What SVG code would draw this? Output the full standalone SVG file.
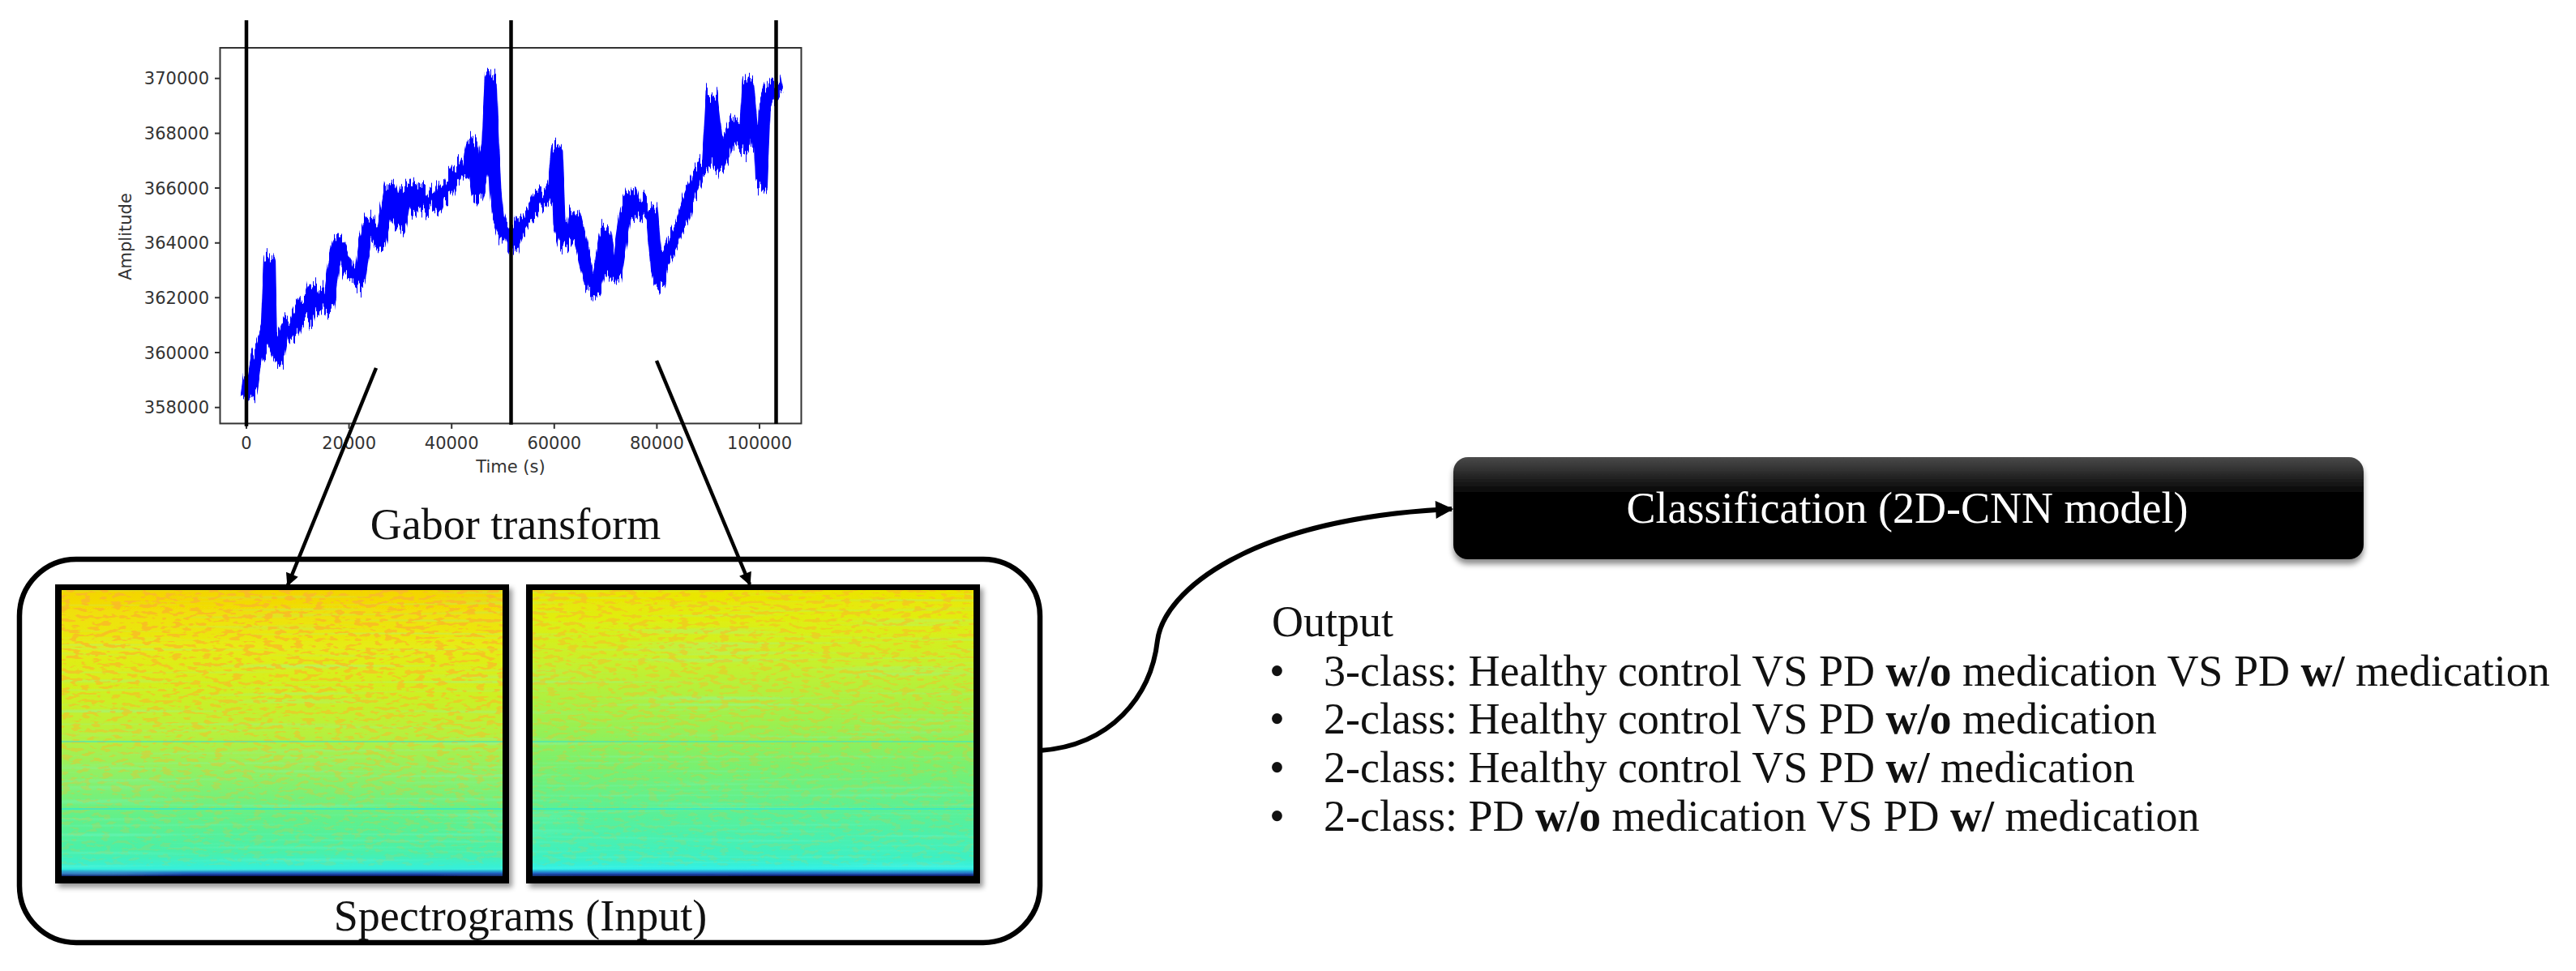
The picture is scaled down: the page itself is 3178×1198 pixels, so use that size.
<svg xmlns="http://www.w3.org/2000/svg" width="3178" height="1198" viewBox="0 0 3178 1198">
<style>
.tick{font-family:"DejaVu Sans",sans-serif;font-size:21px;fill:#333}
.lbl{font-family:"Liberation Serif","Times New Roman",serif;font-size:54px;fill:#111}
.ax{stroke:#333;stroke-width:2;fill:none}
.vl{stroke:#000;stroke-width:4.5}
.arr{stroke:#000;stroke-width:4.5;fill:none}
.b{font-weight:bold}
</style>
<defs>
<marker id="ah" viewBox="0 0 10 10" refX="9" refY="5" markerWidth="18" markerHeight="16" markerUnits="userSpaceOnUse" orient="auto"><path d="M0,0 L10,5 L0,10 z" fill="#000"/></marker>
<marker id="ah2" viewBox="0 0 10 10" refX="9" refY="5" markerWidth="24" markerHeight="22" markerUnits="userSpaceOnUse" orient="auto"><path d="M0,0 L10,5 L0,10 z" fill="#000"/></marker>
<linearGradient id="g1" x1="0" y1="0" x2="0" y2="1">
<stop offset="0" stop-color="#f4d400"/><stop offset="0.08" stop-color="#f0e008"/><stop offset="0.2" stop-color="#e6ec14"/><stop offset="0.35" stop-color="#d0f020"/><stop offset="0.5" stop-color="#b8f03c"/><stop offset="0.65" stop-color="#8cf068"/><stop offset="0.8" stop-color="#60f08c"/><stop offset="0.92" stop-color="#48f0ac"/><stop offset="0.975" stop-color="#34f0dc"/><stop offset="0.99" stop-color="#2060c0"/><stop offset="1" stop-color="#0a1060"/>
</linearGradient>
<linearGradient id="g2" x1="0" y1="0" x2="0" y2="1">
<stop offset="0" stop-color="#ece400"/><stop offset="0.1" stop-color="#e0ee10"/><stop offset="0.25" stop-color="#c8f02c"/><stop offset="0.45" stop-color="#a0f04c"/><stop offset="0.6" stop-color="#7cf06c"/><stop offset="0.8" stop-color="#56f09c"/><stop offset="0.94" stop-color="#3cf0c4"/><stop offset="0.975" stop-color="#30f0e8"/><stop offset="0.99" stop-color="#2060c0"/><stop offset="1" stop-color="#0a1060"/>
</linearGradient>
<linearGradient id="fadeg1" x1="0" y1="0" x2="0" y2="1"><stop offset="0" stop-color="#fff"/><stop offset="0.3" stop-color="#bbb"/><stop offset="0.75" stop-color="#444"/><stop offset="1" stop-color="#222"/></linearGradient>
<linearGradient id="fadeg2" x1="0" y1="0" x2="0" y2="1"><stop offset="0" stop-color="#aaa"/><stop offset="0.3" stop-color="#777"/><stop offset="0.7" stop-color="#333"/><stop offset="1" stop-color="#222"/></linearGradient>
<mask id="fade1" maskContentUnits="objectBoundingBox"><rect width="1" height="1" fill="url(#fadeg1)"/></mask>
<mask id="fade2" maskContentUnits="objectBoundingBox"><rect width="1" height="1" fill="url(#fadeg2)"/></mask>
<filter id="speck" x="0" y="0" width="1" height="1">
<feTurbulence type="fractalNoise" baseFrequency="0.08 0.22" numOctaves="2" seed="5" result="n"/>
<feColorMatrix in="n" type="matrix" values="0 0 0 0 0.95  0 0 0 0 0.5  0 0 0 0 0.02  12 0 0 0 -6.4" result="d"/>
<feComposite in="d" in2="SourceAlpha" operator="in"/>
</filter>
<filter id="rows" x="0" y="0" width="1" height="1">
<feTurbulence type="fractalNoise" baseFrequency="0.004 0.25" numOctaves="1" seed="2" result="n"/>
<feColorMatrix in="n" type="matrix" values="0 0 0 0 0.2  0 0 0 0 0.95  0 0 0 0 0.7  3 0 0 0 -1.6" result="d"/>
<feComposite in="d" in2="SourceAlpha" operator="in"/>
</filter>
<filter id="jit" filterUnits="userSpaceOnUse" x="280" y="40" width="720" height="490">
<feTurbulence type="fractalNoise" baseFrequency="0.45 0.006" numOctaves="2" seed="7" result="n"/>
<feColorMatrix in="n" type="matrix" values="0 0 0 0 0.5  0 1 0 0 0  0 0 0 0 0  0 0 0 0 1" result="m"/>
<feDisplacementMap in="SourceGraphic" in2="m" scale="40" xChannelSelector="R" yChannelSelector="G"/>
</filter>
<filter id="shd" x="-5%" y="-5%" width="110%" height="115%"><feDropShadow dx="4" dy="5" stdDeviation="3" flood-color="#000" flood-opacity="0.4"/></filter>
<filter id="shd2" x="-5%" y="-10%" width="110%" height="130%"><feDropShadow dx="0" dy="6" stdDeviation="3.5" flood-color="#000" flood-opacity="0.45"/></filter>
<linearGradient id="cg" x1="0" y1="0" x2="0" y2="1"><stop offset="0" stop-color="#4a4a4a"/><stop offset="0.35" stop-color="#050505"/><stop offset="1" stop-color="#000"/></linearGradient>
</defs>
<rect width="3178" height="1198" fill="#fff"/>

<g id="signal-plot">
<polyline fill="none" stroke="#0000ff" stroke-width="15" stroke-linejoin="round" filter="url(#jit)" points="304,490 307.2,469 310.3,482 313.5,459 316.7,442 323,428 329.3,408 332.5,322 334.4,418 338.8,425 343.9,442 348.3,415 354.6,401 361,411 367.3,388 373.6,374 380,391 386.3,357 392.6,374 399,361 405.3,374 411.6,327 418,300 424.3,317 430.6,334 437,340 443.3,347 449.6,300 456,276 462.3,286 468.6,300 475,266 481.2,232 487.6,266 494,279 500.2,239 506.6,232 513,256 519.2,239 525.6,256 532,245 538.2,252 544.5,232 551,239 557.2,222 563.5,215 570,205 576.2,212 582.5,178 585.7,215 588.9,239 595.2,212 601.5,181 605.3,98 607.8,164 611,232 614.2,266 620.5,286 626.8,283 633,303 639.5,283 645.8,273 652.2,266 658.5,256 664.8,242 671,249 677.5,239 683.8,225 687,185 690,273 696.5,300 702.8,290 709,266 715.5,293 721.8,323 728,347 734.4,357 740.8,327 747,290 753.4,334 759.8,340 766,300 772.4,256 778.8,239 785,262 791.4,252 797.7,266 804,259 810.4,334 813.6,347 816.7,327 823,313 829.4,300 835.7,283 842,273 848.4,249 854.7,232 861,215 867.4,205 873.7,198 878,120 883.2,164 886.4,205 892.7,191 899,171 905.4,154 911.7,171 918,181 923,104 927.5,164 930.7,171 937,164 939.5,225 943.3,131 949.7,114 956,104 959,120"/>
<rect class="ax" x="271.5" y="59" width="717" height="463.5"/>
<path class="ax" d="M265,96.7H271.5M265,164.4H271.5M265,232H271.5M265,299.7H271.5M265,367.3H271.5M265,435H271.5M265,502.7H271.5M304,522.5V529M430.6,522.5V529M557.2,522.5V529M683.8,522.5V529M810.4,522.5V529M937,522.5V529"/>
<g class="tick" text-anchor="end">
<text x="258" y="104.2">370000</text><text x="258" y="171.9">368000</text><text x="258" y="239.5">366000</text><text x="258" y="307.2">364000</text><text x="258" y="374.8">362000</text><text x="258" y="442.5">360000</text><text x="258" y="510.2">358000</text>
</g>
<g class="tick" text-anchor="middle">
<text x="304" y="554">0</text><text x="430.6" y="554">20000</text><text x="557.2" y="554">40000</text><text x="683.8" y="554">60000</text><text x="810.4" y="554">80000</text><text x="937" y="554">100000</text>
<text x="630" y="583">Time (s)</text>
<text transform="translate(162,292) rotate(-90)">Amplitude</text>
</g>
<line class="vl" x1="304" y1="25" x2="304" y2="526"/>
<line class="vl" x1="630.5" y1="25" x2="630.5" y2="524"/>
<line class="vl" x1="957.5" y1="25" x2="957.5" y2="523"/>
</g>

<g id="gabor-label"><text class="lbl" x="636" y="665" text-anchor="middle">Gabor transform</text></g>

<g id="spectrograms">
<rect x="24" y="690" width="1259" height="473" rx="70" ry="70" fill="none" stroke="#000" stroke-width="6.5"/>
<g id="spec1" filter="url(#shd)">
<rect x="68" y="721" width="560" height="369" fill="#000"/>
<rect x="76" y="728" width="544" height="353" fill="url(#g1)"/>
<rect x="76" y="728" width="544" height="353" fill="#fff" filter="url(#rows)" opacity="0.35"/>
<rect x="76" y="728" width="544" height="340" fill="#fff" filter="url(#speck)" mask="url(#fade1)"/>
<line x1="76" y1="915" x2="620" y2="915" stroke="#40e8c0" stroke-width="2" opacity="0.6"/>
<line x1="76" y1="998" x2="620" y2="998" stroke="#30e8d0" stroke-width="2" opacity="0.7"/>
</g>
<g id="spec2" filter="url(#shd)">
<rect x="649" y="721" width="560" height="369" fill="#000"/>
<rect x="657" y="728" width="544" height="353" fill="url(#g2)"/>
<rect x="657" y="728" width="544" height="353" fill="#fff" filter="url(#rows)" opacity="0.35"/>
<rect x="657" y="728" width="544" height="340" fill="#fff" filter="url(#speck)" mask="url(#fade2)"/>
<line x1="657" y1="915" x2="1201" y2="915" stroke="#40e8c0" stroke-width="2" opacity="0.6"/>
<line x1="657" y1="998" x2="1201" y2="998" stroke="#30e8d0" stroke-width="2" opacity="0.7"/>
</g>
<text class="lbl" x="642" y="1148" text-anchor="middle">Spectrograms (Input)</text>
</g>

<g id="classification">
<rect x="1793" y="564" width="1123" height="126" rx="18" ry="18" fill="url(#cg)" filter="url(#shd2)"/>
<text class="lbl" x="2353" y="645" text-anchor="middle" style="fill:#fff">Classification (2D-CNN model)</text>
</g>

<g id="output">
<text class="lbl" x="1569" y="785">Output</text>
<g class="lbl">
<text x="1566" y="846">•</text><text x="1633" y="846">3-class: Healthy control VS PD <tspan class="b">w/o</tspan> medication VS PD <tspan class="b">w/</tspan> medication</text>
<text x="1566" y="905">•</text><text x="1633" y="905">2-class: Healthy control VS PD <tspan class="b">w/o</tspan> medication</text>
<text x="1566" y="965">•</text><text x="1633" y="965">2-class: Healthy control VS PD <tspan class="b">w/</tspan> medication</text>
<text x="1566" y="1025">•</text><text x="1633" y="1025">2-class: PD <tspan class="b">w/o</tspan> medication VS PD <tspan class="b">w/</tspan> medication</text>
</g>
</g>

<g id="connectors">
<line class="arr" x1="464" y1="454" x2="355" y2="722" marker-end="url(#ah)"/>
<line class="arr" x1="810" y1="445" x2="925" y2="721" marker-end="url(#ah)"/>
<path d="M1283,926 C1370,920 1420,860 1428,790 C1436,730 1540,640 1791,628" fill="none" stroke="#000" stroke-width="6" marker-end="url(#ah2)"/>
</g>
</svg>
